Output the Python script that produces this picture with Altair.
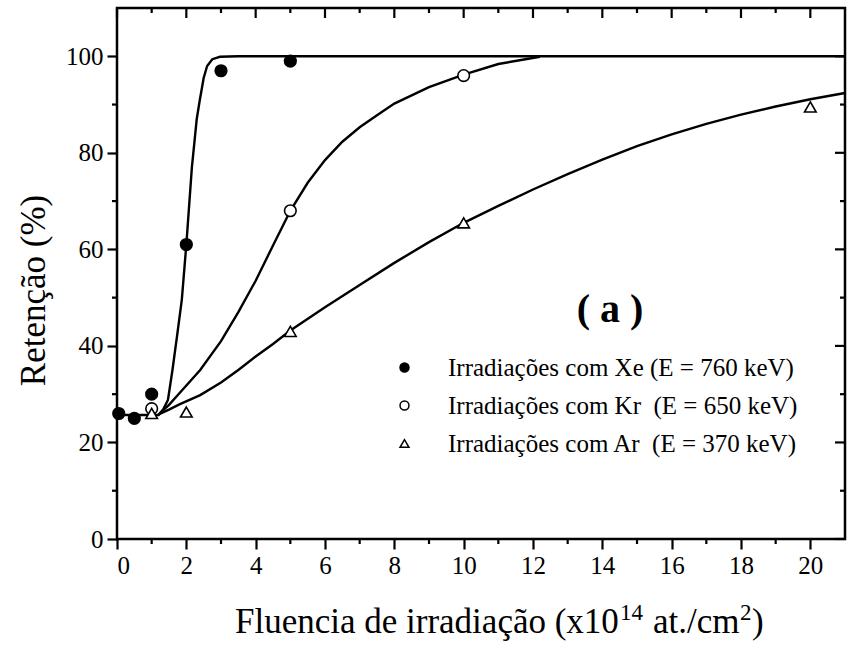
import altair as alt
import pandas as pd

FONT = "Liberation Serif"

# ---------------- data ----------------
SERIES = [
    "Irradiações com Xe (E = 760 keV)",
    "Irradiações com Kr\u00a0 (E = 650 keV)",
    "Irradiações com Ar\u00a0 (E = 370 keV)",
]
SHAPES = ["circle", "circle", "triangle-up"]
FILLS = ["black", "white", "white"]
STROKES = ["black", "black", "black"]

xe_x = [0.05, 0.5, 1, 2, 3, 5]
xe_y = [26, 25, 30, 61, 97, 99]
kr_x = [1, 5, 10]
kr_y = [27, 68, 96]
ar_x = [1, 2, 5, 10, 20]
ar_y = [26, 26.3, 43, 65.5, 89.5]

# fitted curves
xe_fit_x = [0, 1.2, 1.33, 1.47, 1.6, 1.75, 1.87, 2.0, 2.16, 2.3, 2.39, 2.5, 2.6, 2.75, 2.97, 3.5, 21]
xe_fit_y = [25.7, 25.7, 26.8, 28.8, 35, 43, 49.6, 61, 77, 87, 91, 95.5, 98, 99.4, 99.9, 100, 100]
kr_fit_x = [1.2, 1.5, 1.8, 2.4, 3.0, 3.5, 4.0, 4.5, 5.0, 5.5, 6.0, 6.5, 7.0, 7.5, 8.0, 9.0, 10.0, 11.0, 12.2]
kr_fit_y = [25.8, 27.8, 30.2, 35, 41, 47, 53.5, 60.8, 68, 73.8, 78.5, 82.3, 85.3, 87.8, 90.2, 93.6, 96.2, 98.4, 99.9]
ar_fit_x = [1.2, 1.5, 1.8, 2.4, 3.0, 3.5, 4.0, 4.5, 5, 6, 7, 8, 9, 10, 11, 12, 13, 14, 15, 16, 17, 18, 19, 20, 21]
ar_fit_y = [25.8, 26.8, 27.9, 29.8, 32.4, 35, 37.8, 40.4, 43.2, 48, 52.6, 57.2, 61.5, 65.5, 69, 72.4, 75.6, 78.6, 81.4, 83.8, 86, 87.9, 89.6, 91.1, 92.4]

x_major = list(range(0, 21, 2))
x_minor = list(range(1, 21, 2))
y_major = list(range(0, 101, 20))
y_minor = list(range(10, 100, 20))

# ---------------- tables ----------------
pts = pd.concat([
    pd.DataFrame({"series": SERIES[0], "x": xe_x, "y": xe_y}),
    pd.DataFrame({"series": SERIES[1], "x": kr_x, "y": kr_y}),
    pd.DataFrame({"series": SERIES[2], "x": ar_x, "y": ar_y}),
], ignore_index=True)
fits = pd.concat([
    pd.DataFrame({"series": SERIES[0], "x": xe_fit_x, "y": xe_fit_y}),
    pd.DataFrame({"series": SERIES[1], "x": kr_fit_x, "y": kr_fit_y}),
    pd.DataFrame({"series": SERIES[2], "x": ar_fit_x, "y": ar_fit_y}),
], ignore_index=True)

W, H = 728, 531
LEFT, TOP = 117, 8

xscale = alt.Scale(domain=[0, 21], nice=False, zero=False)
yscale = alt.Scale(domain=[0, 110], nice=False, zero=False)

X = alt.X("x:Q", scale=xscale, axis=alt.Axis(values=x_major, title=None, format="d"))
Y = alt.Y("y:Q", scale=yscale, axis=alt.Axis(values=y_major, title="Retenção (%)", format="d",
                                              titleX=-84, titleY=282, titleAngle=270,
                                              titleAlign="center", titleBaseline="middle"))

lines = alt.Chart(fits).mark_line(color="black", strokeWidth=2.4).encode(
    x=X, y=Y, detail="series:N", order="x:Q"
)

legend = alt.Legend(
    title=None, orient="none", legendX=275, legendY=347, padding=0,
    labelFont=FONT, labelFontSize=25, labelColor="black", labelLimit=0,
    labelOffset=31, rowPadding=12, symbolSize=80, symbolStrokeColor="black",
    symbolStrokeWidth=1.5, symbolOpacity=1,
)
points = alt.Chart(pts).mark_point(filled=True, strokeWidth=1.6,
                                   size=135, opacity=1).encode(
    x="x:Q", y="y:Q",
    shape=alt.Shape("series:N", scale=alt.Scale(domain=SERIES, range=SHAPES), legend=legend),
    fill=alt.Fill("series:N", scale=alt.Scale(domain=SERIES, range=FILLS), legend=legend),
    stroke=alt.Stroke("series:N", scale=alt.Scale(domain=SERIES, range=STROKES), legend=legend),
)

def xticks(vals, y0, y1):
    return alt.Chart(pd.DataFrame({"x": vals})).mark_rule(color="black", strokeWidth=2.2).encode(
        x="x:Q", y=alt.value(y0), y2=alt.value(y1))

def yticks(vals, x0, x1):
    return alt.Chart(pd.DataFrame({"y": vals})).mark_rule(color="black", strokeWidth=2.2).encode(
        y="y:Q", x=alt.value(x0), x2=alt.value(x1))

tick_layers = [
    xticks(x_minor, H, H + 5),
    xticks(x_major, 0, 10),
    xticks(x_minor, 0, 5),
    yticks(y_minor, 0, -5),
    yticks(y_major, W, W - 10),
    yticks(y_minor, W, W - 5),
]

one = pd.DataFrame({"t": [""]})

def label(text, x, y, size, weight="normal", align="left"):
    return alt.Chart(one).mark_text(text=text, font=FONT, fontSize=size, fontWeight=weight,
                                    color="black", align=align, baseline="alphabetic").encode(
        x=alt.value(x), y=alt.value(y))

# x-axis title with superscripts (pixel positions relative to plot origin)
tx = 235 - LEFT
base_y = 633 - TOP
texts = [
    label("( a )", 610 - LEFT, 322 - TOP, 40, weight="bold", align="center"),
    label("Fluencia de irradiação (x10", tx, base_y, 35),
    label("14", tx + 385, base_y - 13, 23),
    label("at./cm", tx + 418, base_y, 35),
    label("2", tx + 505, base_y - 13, 23),
    label(")", tx + 517, base_y, 35),
]

chart = alt.layer(lines, *tick_layers, points, *texts).properties(
    width=W, height=H,
    padding={"left": LEFT, "top": TOP, "right": 847 - LEFT - W, "bottom": 653 - TOP - H},
    autosize=alt.AutoSizeParams(type="none"),
    background="white",
).configure_view(
    stroke="black", strokeWidth=2.5
).configure_axis(
    domain=False, grid=False,
    tickColor="black", tickWidth=2.2, tickSize=10,
    labelFont=FONT, labelFontSize=25, labelColor="black", labelPadding=4,
    titleFont=FONT, titleFontSize=35, titleFontWeight="normal", titleColor="black",
)

chart.save("out.html", embed_options={"renderer": "svg", "actions": False})
